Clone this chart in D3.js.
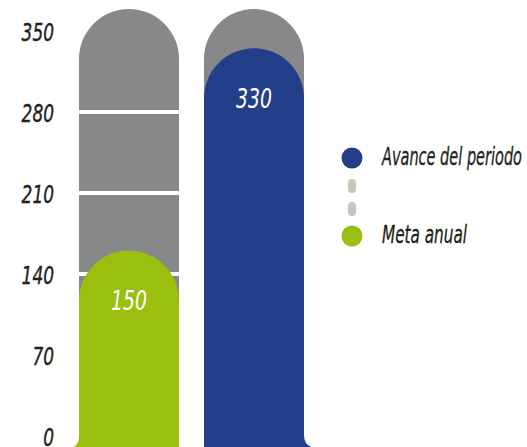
<!DOCTYPE html>
<html>
<head>
<meta charset="utf-8">
<script src="https://cdn.jsdelivr.net/npm/d3@7"></script>
<style>
  html, body { margin: 0; padding: 0; background: #ffffff; }
  svg { display: block; }
  text { font-family: "Liberation Sans Narrow", "DejaVu Sans Condensed", "Open Sans", sans-serif; font-style: italic; }
</style>
</head>
<body>
<svg id="chart" width="527" height="447"></svg>
<script>
// ---- data ----
const categories = ["Meta anual", "Avance del periodo"];
const values = [150, 330];
const backgroundValue = 365;
const tickValues = [0, 70, 140, 210, 280, 350];
const gridValues = [140, 210, 280];
const legendLabels = ["Avance del periodo", "Meta anual"];
const barColors = ["#9abf0f", "#243f8a"];
const legendColors = ["#243f8a", "#9abf0f"];

// ---- layout ----
const W = 527, H = 447;
const svg = d3.select("#chart");

const x = d3.scaleBand().domain(categories).range([79, 304]).paddingInner(0.2);
const yAxisScale = d3.scaleLinear().domain([0, 350]).range([436, 31]);
const yBar = d3.scaleLinear().domain([0, backgroundValue]).range([419, 9]);
const bottom = H + 1;

function barPath(x0, w, top) {
  const r = w / 2;
  return `M${x0},${bottom} L${x0},${top + r} A${r},${r} 0 0 1 ${x0 + w},${top + r} L${x0 + w},${bottom} Z`;
}

// background gray bars
svg.selectAll("path.bg").data(categories).enter().append("path")
  .attr("class", "bg")
  .attr("d", d => barPath(x(d), x.bandwidth(), yBar(backgroundValue)))
  .attr("fill", "#87888a");

// white grid lines across the bars
categories.forEach(c => {
  svg.selectAll(null).data(gridValues).enter().append("rect")
    .attr("x", x(c)).attr("width", x.bandwidth())
    .attr("y", d => yAxisScale(d) - 2).attr("height", 4)
    .attr("fill", "#ffffff");
});

// value bars
svg.selectAll("path.val").data(categories).enter().append("path")
  .attr("class", "val")
  .attr("d", (d, i) => barPath(x(d), x.bandwidth(), yBar(values[i])))
  .attr("fill", (d, i) => barColors[i]);

// foot fillets
{
  const x0 = x(categories[0]);
  svg.append("path")
    .attr("d", `M${x0},436 Q${x0},${bottom} ${x0 - 11},${bottom} L${x0},${bottom} Z`)
    .attr("fill", barColors[0]);
  const x1 = x(categories[1]) + x.bandwidth();
  svg.append("path")
    .attr("d", `M${x1},435 Q${x1},${bottom} ${x1 + 14},${bottom} L${x1},${bottom} Z`)
    .attr("fill", barColors[1]);
}

// value labels
svg.selectAll("text.val").data(categories).enter().append("text")
  .attr("class", "val")
  .attr("x", d => x(d) + x.bandwidth() / 2)
  .attr("y", (d, i) => yBar(values[i]) + x.bandwidth() / 2)
  .attr("dy", "0.36em")
  .attr("text-anchor", "middle")
  .attr("fill", "#ffffff")
  .attr("font-size", 27)
  .attr("textLength", (d, i) => String(values[i]).length * 12)
  .attr("lengthAdjust", "spacingAndGlyphs")
  .text((d, i) => values[i]);

// y axis labels
const axis = d3.axisLeft(yAxisScale).tickValues(tickValues).tickSize(0).tickPadding(0);
const gAxis = svg.append("g").attr("transform", "translate(54,0)").call(axis);
gAxis.select(".domain").remove();
gAxis.selectAll("text")
  .attr("font-family", null)
  .attr("font-size", 25)
  .attr("fill", "#231f20")
  .attr("stroke", "#231f20")
  .attr("stroke-width", 0.4)
  .attr("dy", "0.36em")
  .attr("textLength", d => String(d).length * 10.8)
  .attr("lengthAdjust", "spacingAndGlyphs");

// legend
const legendY = [158, 236];
const legendWidths = [140, 85];
svg.selectAll("circle.lg").data(legendLabels).enter().append("circle")
  .attr("cx", 352).attr("cy", (d, i) => legendY[i]).attr("r", 10.5)
  .attr("fill", (d, i) => legendColors[i]);
svg.selectAll("rect.dash").data([179, 202]).enter().append("rect")
  .attr("x", 348).attr("y", d => d).attr("width", 8).attr("height", 14).attr("rx", 4)
  .attr("fill", "#c9c6b9");
svg.selectAll("text.lg").data(legendLabels).enter().append("text")
  .attr("x", 382).attr("y", (d, i) => legendY[i] + 7)
  .attr("font-size", 24)
  .attr("fill", "#231f20")
  .attr("stroke", "#231f20")
  .attr("stroke-width", 0.3)
  .attr("textLength", (d, i) => legendWidths[i])
  .attr("lengthAdjust", "spacingAndGlyphs")
  .text(d => d);
</script>
</body>
</html>
